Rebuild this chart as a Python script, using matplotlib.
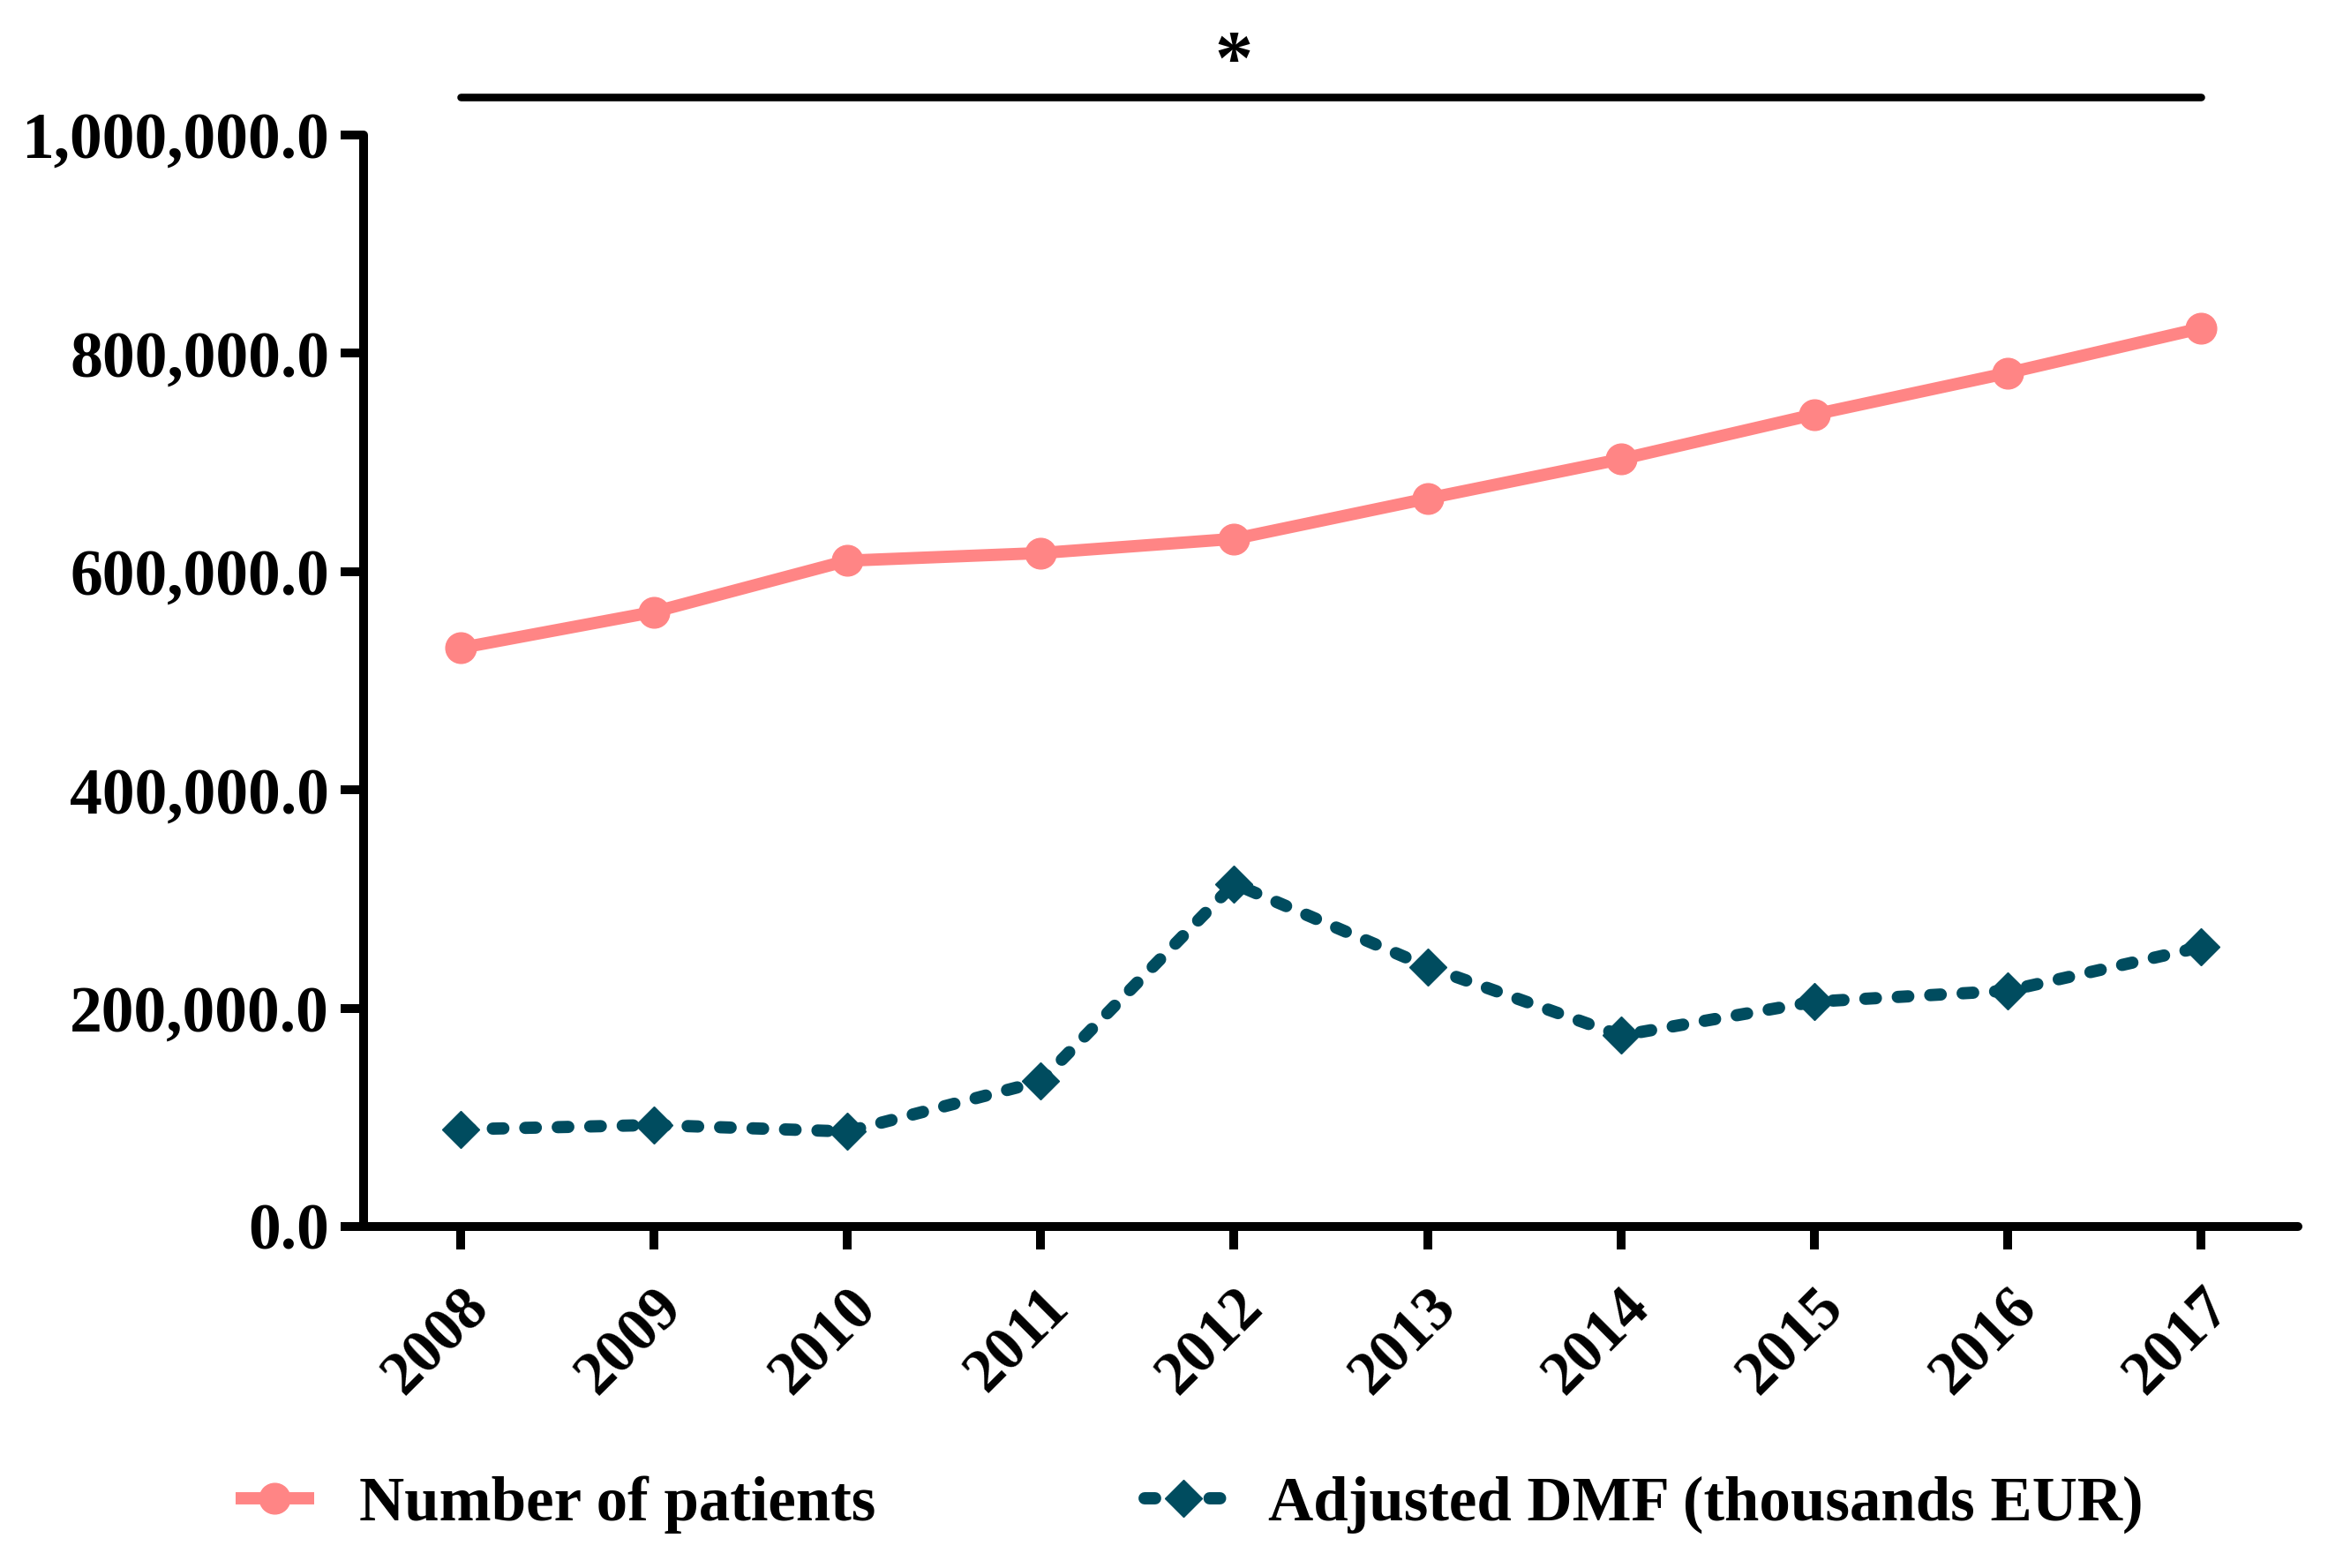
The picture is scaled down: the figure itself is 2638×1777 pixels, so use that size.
import matplotlib
matplotlib.use("Agg")
import matplotlib.pyplot as plt
from matplotlib.ticker import FuncFormatter
from matplotlib.lines import Line2D

# ---- data ----
years = [2008, 2009, 2010, 2011, 2012, 2013, 2014, 2015, 2016, 2017]
patients = [530000, 563000, 610000, 617000, 630000, 667000, 703000, 744000, 782000, 823000]
dmf = [89000, 93000, 87000, 133000, 314000, 238000, 175000, 206000, 216000, 256000]
series_labels = ["Number of patients", "Adjusted DMF (thousands EUR)"]
y_ticks = [0, 200000, 400000, 600000, 800000, 1000000]
sig_label = "*"
sig_from, sig_to = 2008, 2017
sig_level = 1035000
star_x, star_level = 2012, 1032000

PINK = "#FF8585"
TEAL = "#004C5F"

plt.rcParams['font.family'] = ['Liberation Serif', 'DejaVu Serif']
plt.rcParams['font.weight'] = 'bold'

fig = plt.figure(figsize=(26.38, 17.77), dpi=100)
ax = fig.add_axes([0.1562, 0.2178, 0.9871 - 0.1562, 0.9139 - 0.2178])

ax.plot(years, patients, color=PINK, lw=10, marker='o', ms=25,
        solid_capstyle='round', solid_joinstyle='round', zorder=3)
ax.plot(years, dmf, color=TEAL, lw=10, marker='D', ms=21,
        dashes=(0.86, 1.79), dash_capstyle='round', zorder=3)

ax.set_xlim(2007.5, 2017.5)
ax.set_ylim(0, 1000000)
ax.set_xticks(years)
ax.set_xticklabels([str(y) for y in years])
ax.set_yticks(y_ticks)
ax.yaxis.set_major_formatter(FuncFormatter(lambda v, p: f"{v:,.1f}"))

for s in ['top', 'right']:
    ax.spines[s].set_visible(False)
for s in ['left', 'bottom']:
    ax.spines[s].set_linewidth(7.2)
    ax.spines[s].set_capstyle('round')

ax.tick_params(axis='both', width=7.2, length=19, color='black')
ax.tick_params(axis='y', labelsize=53, pad=9)
ax.tick_params(axis='x', labelsize=50, pad=24)
for lab in ax.get_xticklabels():
    lab.set_rotation(45)
    lab.set_ha('right')
    lab.set_va('top')
    lab.set_rotation_mode('anchor')
for lab in ax.get_yticklabels() + ax.get_xticklabels():
    lab.set_fontweight('bold')

# significance bar
ax.plot([sig_from, sig_to], [sig_level, sig_level], color='black', lw=6.2,
        solid_capstyle='round', clip_on=False)
ax.text(star_x, star_level, sig_label, ha='center', va='bottom', fontsize=62,
        fontweight='bold', clip_on=False)

handles = [
    Line2D([], [], color=PINK, lw=10, marker='o', ms=25, solid_capstyle='butt'),
    Line2D([], [], color=TEAL, lw=10, marker='D', ms=21, dashes=(0.86, 1.79),
           dash_capstyle='round'),
]
fig.legend(handles, series_labels, loc='center', bbox_to_anchor=(0.511, 0.0405),
           ncol=2, frameon=False, prop={'size': 51, 'weight': 'bold'},
           handlelength=1.25, handletextpad=0.73, columnspacing=4.3)

fig.savefig("out.png", dpi=100, facecolor='white')
